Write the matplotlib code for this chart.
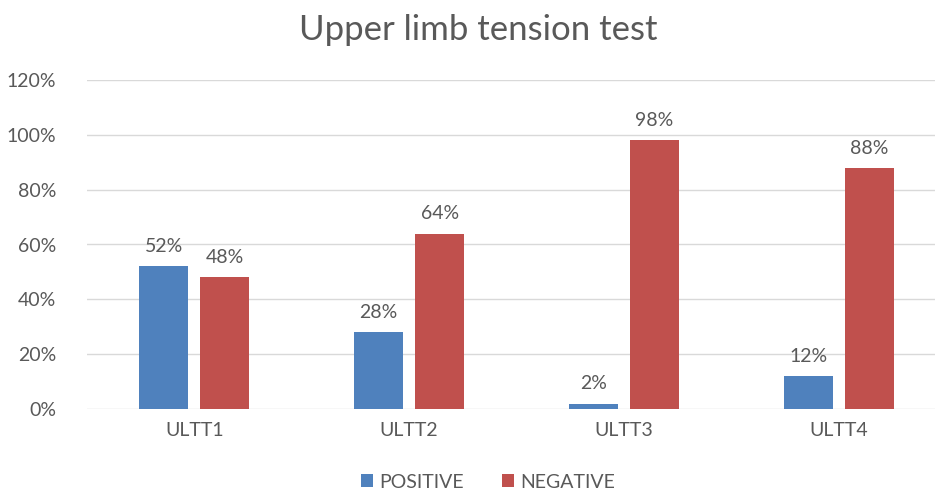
import numpy as np
import matplotlib.pyplot as plt

plt.rcParams['font.family'] = ['Lato', 'DejaVu Sans']

categories = ["ULTT1", "ULTT2", "ULTT3", "ULTT4"]
positive = [52, 28, 2, 12]
negative = [48, 64, 98, 88]
y_ticks = [0, 20, 40, 60, 80, 100, 120]

blue = "#4F81BD"
red = "#C0504D"
grey = "#595959"

fig = plt.figure(figsize=(9.35, 4.94), dpi=100)
ax = fig.add_axes([87 / 935, 85 / 494, (935 - 87) / 935, 329 / 494])

x = np.arange(len(categories))
w = 0.228
off = 0.142
b1 = ax.bar(x - off, positive, w, color=blue, label="POSITIVE", zorder=3)
b2 = ax.bar(x + off, negative, w, color=red, label="NEGATIVE", zorder=3)

for bars, vals in [(b1, positive), (b2, negative)]:
    for rect, v in zip(bars, vals):
        ax.annotate(f"{v}%", (rect.get_x() + rect.get_width() / 2, v),
                    xytext=(0, 8), textcoords="offset points",
                    ha="center", va="bottom", fontsize=14, color=grey)

ax.set_ylim(0, 120)
ax.set_xlim(-0.5, 3.5 - 11 / 214.7)
ax.set_yticks(y_ticks)
ax.set_yticklabels([f"{t}%" for t in y_ticks])
ax.set_xticks(x)
ax.set_xticklabels(categories)
ax.tick_params(length=0, labelsize=14, labelcolor=grey)
ax.tick_params(axis="y", pad=22)
ax.tick_params(axis="x", pad=9)
ax.grid(axis="y", color="#D9D9D9", linewidth=1, zorder=0)
for s in ax.spines.values():
    s.set_visible(False)

fig.text(478 / 935, 1 - 30 / 494, "Upper limb tension test", ha="center", va="center",
         fontsize=25, color=grey)

fig.legend(handles=[b1, b2], loc="center", bbox_to_anchor=(488 / 935, 1 - 482 / 494),
           ncol=2, frameon=False, fontsize=14, handlelength=0.6, handleheight=0.6,
           handletextpad=0.3, columnspacing=2.0, labelcolor=grey)

plt.savefig("out.png", dpi=100)
